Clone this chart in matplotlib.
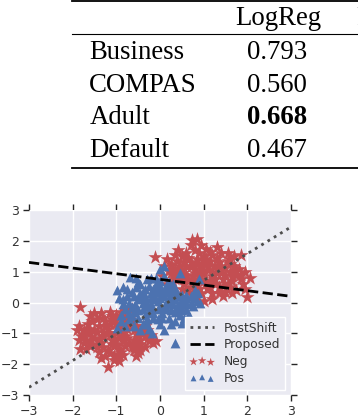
import matplotlib
matplotlib.use("Agg")
import matplotlib.pyplot as plt
from matplotlib.lines import Line2D

# table values
datasets = ["Business", "COMPAS", "Adult", "Default"]
logreg = ["0.793", "0.560", "0.668", "0.467"]
bold_row = "Adult"

# negative samples (two blobs)
neg_x = [0.95, 1.1, 0.8, 1.2, 0.7, 1.0, 1.3, 0.6, 0.9, 1.15,
         0.5, 1.4, 0.85, 1.05, 0.75, 1.35, 0.55, 1.5, 0.45, 1.25,
         0.65, 1.0, 1.45, 0.35, 1.6, 0.9, 1.2, 0.4, 1.55, 0.3,
         0.7, 1.1, 0.95, 1.35, 1.65, 1.7, 0.25, 0.55, 0.8, 1.05,
         1.4, 0.6, 1.75, 0.2, 1.8, 1.85, 1.9, 1.6, 1.5, 1.2,
         0.85, 0.65, 0.3, 0.15, 0.35, 0.7, 1.3, 1.7, 1.95, 2.05,
         0.73, 0.85, 0.41, 1.55, 1.85, 1.95, 2.0, 1.2, 0.1, -0.11,
         0.05, 1.0, 1.25, 0.5, 1.45, 1.65, 0.15, 1.75, 1.0, 0.4,
         0.6, 0.8, 1.1, 1.3, 0.9, 1.0, 0.75, 1.2, 0.85, 1.05,
         0.5, 1.5, 1.4, 0.65, 1.15, 0.95, 0.45, 1.6, 0.7, 1.3,
         1.1, 0.8, 0.55, 1.55, 0.4, 1.65, 1.0, 1.25, 0.9, 0.6,
         1.45, 0.35, 1.75, 1.15, 0.5, 1.6, 0.25, 1.85, 0.95, 1.35,
         -1.0, -1.15, -0.85, -1.2, -0.75, -1.05, -1.3, -0.6, -0.9, -1.1,
         -0.5, -1.45, -0.8, -1.0, -0.7, -1.35, -0.55, -1.5, -0.4, -1.25,
         -0.65, -0.95, -1.4, -0.35, -1.6, -0.9, -1.2, -0.45, -1.55, -0.3,
         -0.75, -1.1, -0.9, -1.3, -1.65, -1.7, -0.25, -0.6, -0.85, -1.05,
         -1.4, -0.6, -1.75, -0.2, -1.8, -1.85, -1.6, -1.5, -1.15, -0.8,
         -0.65, -0.3, -0.45, -1.35, -1.7, -1.9, -1.83, -1.83, -1.2, -0.95,
         -1.05, -1.25, -0.5, -1.45, -0.15, -1.75, -1.0, -0.35, -0.1, -0.55,
         -0.6, -0.8, -1.1, -1.3, -0.9, -1.0, -0.75, -1.2, -0.85, -1.05,
         -0.5, -1.5, -1.4, -0.65, -1.15, -0.95, -0.45, -1.6, -0.7, -1.3,
         -1.1, -0.8, -0.55, -1.55, -0.4, -1.65, -1.0, -1.25, -0.9, -0.6,
         -1.45, -0.35, -1.75, -1.15, -0.5, -1.6, -0.25, -1.85, -0.95, -1.35]
neg_y = [1.0, 1.05, 0.95, 0.85, 1.15, 1.25, 1.1, 0.9, 0.75, 1.35,
         1.05, 0.95, 1.4, 0.65, 0.7, 1.3, 1.3, 1.15, 0.8, 0.6,
         1.45, 1.5, 0.75, 1.1, 1.0, 1.6, 1.55, 1.35, 1.35, 0.9,
         0.5, 0.45, 0.3, 0.5, 0.7, 1.2, 1.25, 0.6, 1.7, 1.75,
         1.6, 1.6, 0.9, 1.05, 1.1, 0.75, 0.6, 0.5, 0.35, 0.3,
         0.2, 0.35, 0.65, 1.4, 1.55, 1.85, 1.8, 1.5, 1.0, 0.8,
         2.03, 2.05, 1.7, 1.6, 1.55, 0.45, 0.18, 0.1, 1.2, 1.48,
         0.85, 0.95, 1.2, 0.45, 0.2, 0.3, 0.6, 0.4, 0.05, 0.25,
         1.2, 1.1, 1.2, 0.95, 0.9, 0.7, 0.85, 1.0, 1.25, 1.4,
         0.95, 0.9, 1.2, 0.75, 0.7, 1.15, 1.2, 1.25, 1.3, 1.45,
         0.55, 0.55, 0.75, 0.6, 1.0, 0.85, 1.35, 0.75, 0.45, 1.45,
         0.55, 0.75, 1.05, 1.65, 1.5, 1.4, 0.95, 0.9, 1.85, 0.3,
         -1.0, -1.05, -0.95, -0.85, -1.15, -1.25, -1.1, -0.9, -0.75, -1.35,
         -1.05, -0.95, -1.4, -0.65, -0.7, -1.3, -1.3, -1.15, -0.8, -0.6,
         -1.45, -1.5, -0.75, -1.1, -1.0, -1.6, -1.55, -1.35, -1.35, -0.9,
         -0.5, -0.45, -0.3, -0.5, -0.7, -1.2, -1.25, -0.6, -1.7, -1.75,
         -1.6, -1.55, -0.9, -1.05, -1.1, -0.75, -0.45, -0.35, -0.3, -0.25,
         -0.2, -0.65, -1.55, -1.8, -1.5, -0.9, -0.15, -1.5, -2.1, -1.9,
         -1.85, -1.75, -1.65, -1.45, -1.3, -1.3, -0.4, -1.45, -1.25, -1.75,
         -1.2, -1.1, -1.2, -0.95, -0.9, -0.7, -0.85, -1.0, -1.25, -1.4,
         -0.95, -0.9, -1.2, -0.75, -0.7, -1.15, -1.2, -1.25, -1.3, -1.45,
         -0.55, -0.55, -0.75, -0.6, -1.0, -0.85, -1.35, -0.75, -0.45, -1.45,
         -0.55, -0.75, -1.05, -1.65, -1.5, -1.4, -1.1, -1.2, -1.7, -0.35]

# positive samples (middle band)
pos_x = [-0.3, -0.1, 0.1, 0.2, -0.2, 0.0, 0.3, -0.4, 0.15, -0.05,
         0.35, -0.5, -0.25, 0.05, 0.4, -0.6, 0.5, -0.35, 0.25, -0.15,
         0.55, -0.7, 0.0, 0.3, -0.45, -0.65, 0.6, -0.8, -0.5, 0.2,
         0.45, 0.7, -0.3, 0.1, 0.3, -0.75, -0.9, -0.4, 0.0, 0.6,
         0.65, 0.75, 0.8, 0.4, -0.55, -0.85, -0.98, -0.95, -0.7, -0.6,
         -0.8, -0.99, -0.25, -0.19, 0.1, 0.35, 0.5, 0.85, 0.92, 0.87,
         0.9, 0.46, 0.0, 0.1, -0.2, -0.69, 0.34, -0.45, -0.9, -0.15,
         0.15, -0.35, 0.25, -0.05, 0.45, -0.55, 0.3, -0.2, 0.05, -0.45,
         0.69, 0.6, -0.1, 0.2, -0.65, -0.3, 0.15, 0.75, -0.85, 0.5,
         -0.6, -0.4, -0.2, 0.0, 0.2, 0.2, -0.1, 0.1, 0.3, -0.3,
         -0.5, 0.35, -0.05, 0.25, -0.25, 0.5, -0.7, 0.6, -0.15, 0.05,
         -0.45, 0.15, -0.35, 0.4, -0.6, 0.6, -0.1, 0.15, -0.75, -0.55,
         0.0, 0.2, -0.2, 0.0, -0.4, 0.1, -0.65, 0.55, -0.3, 0.25,
         0.7, -0.85, 0.8, -0.5, 0.35, -0.05, 0.45, -0.15, 0.05, -0.35]
pos_y = [0.0, 0.1, 0.2, 0.0, 0.3, -0.1, 0.3, -0.2, 0.45, 0.5,
         0.1, 0.1, -0.3, -0.35, -0.1, -0.3, 0.25, 0.45, -0.25, -0.5,
         0.05, 0.0, 0.7, 0.6, 0.6, 0.35, 0.15, -0.2, -0.5, -0.5,
         -0.4, 0.2, 0.75, 0.85, 0.5, 0.2, -0.4, -0.7, -0.7, -0.2,
         -0.45, -0.1, 0.4, 0.35, 0.8, 0.5, 0.4, 0.15, -0.55, -0.75,
         -0.75, -0.83, -0.85, -1.0, -0.9, -0.6, -0.65, 0.05, -0.03, 0.3,
         0.75, 0.97, 1.1, 1.2, 0.8, 0.83, -1.3, -0.9, -0.6, 0.2,
         0.05, 0.2, 0.25, -0.2, 0.2, -0.1, -0.05, -0.15, 0.35, 0.3,
         -0.47, 0.25, 0.6, 0.65, -0.15, -0.55, -0.2, 0.25, -0.05, -0.25,
         0.2, 0.0, -0.05, 0.15, 0.35, 0.45, 0.35, -0.15, 0.15, -0.1,
         -0.25, -0.3, 0.05, 0.5, 0.55, 0.1, -0.35, -0.05, -0.35, -0.5,
         0.15, 0.6, -0.4, -0.2, -0.1, 0.0, 0.8, 0.55, 0.45, 0.5,
         0.55, 0.1, 0.15, 0.45, 0.35, 0.4, -0.45, -0.5, -0.7, -0.7,
         0.0, 0.1, 0.15, 0.65, 0.4, -0.55, -0.05, 0.45, 0.25, 0.05]

# decision boundaries (endpoints read at x=-3 and x=3)
line_x = [-3, 3]
postshift_y = [-2.75, 2.45]
proposed_y = [1.3, 0.2]

W, H = 358, 416
fig = plt.figure(figsize=(W / 100, H / 100), dpi=100)

# ---- table ----
serif = "Liberation Serif"
fs = 19.3


def fy(px):
    return 1 - px / H


fig.add_artist(Line2D([72 / W, 1], [fy(1.2)] * 2, color="black", lw=1.3))
fig.add_artist(Line2D([72 / W, 1], [fy(34.3)] * 2, color="black", lw=0.8))
fig.add_artist(Line2D([72 / W, 1], [fy(168.3)] * 2, color="black", lw=1.3))

fig.text(278 / W, fy(25), "LogReg", family=serif, fontsize=fs,
         ha="center", va="baseline")
fig.text(356.3 / W, fy(25), "RF", family=serif, fontsize=fs,
         ha="left", va="baseline")

baselines = [59.3, 91.7, 124.3, 156.7]
for name, val, b in zip(datasets, logreg, baselines):
    fig.text(89.3 / W, fy(b), name, family=serif, fontsize=fs,
             ha="left", va="baseline")
    fig.text(277 / W, fy(b), val, family=serif, fontsize=fs,
             ha="center", va="baseline",
             weight="bold" if name == bold_row else "normal")

# ---- scatter plot ----
ax = fig.add_axes([29 / W, 1 - 395 / H, 262 / W, 185 / H])
ax.set_facecolor("#EAEAF2")
for s in ax.spines.values():
    s.set_visible(False)
ax.grid(True, color="white", lw=1)
ax.set_axisbelow(True)

ax.scatter(neg_x, neg_y, marker="*", s=115, color="#C44E52",
           linewidths=0, label="Neg", zorder=2)
ax.scatter(pos_x, pos_y, marker="^", s=50, color="#4C72B0",
           linewidths=0, label="Pos", zorder=3)
ax.plot(line_x, postshift_y, ls=":", color="0.3", lw=2,
        label="PostShift", zorder=4)
ax.plot(line_x, proposed_y, ls="--", color="black", lw=2,
        label="Proposed", zorder=4)

ax.set_xlim(-3, 3)
ax.set_ylim(-3, 3)
ax.set_xticks(range(-3, 4))
ax.set_yticks(range(-3, 4))
ax.tick_params(direction="out", length=4, width=1, color="#262626",
               labelcolor="#333333", labelsize=9, pad=3,
               top=True, right=True)

handles, labels = ax.get_legend_handles_labels()
order = [labels.index(l) for l in ["PostShift", "Proposed", "Neg", "Pos"]]
leg = ax.legend([handles[i] for i in order], [labels[i] for i in order],
                loc="lower right", fontsize=8.8, scatterpoints=3,
                markerscale=0.6, fancybox=False, framealpha=1,
                facecolor="#EAEAF2", edgecolor="white", labelspacing=0.3,
                borderaxespad=0.45)
for t in leg.get_texts():
    t.set_color("#333333")

fig.savefig("out.png", dpi=100)
